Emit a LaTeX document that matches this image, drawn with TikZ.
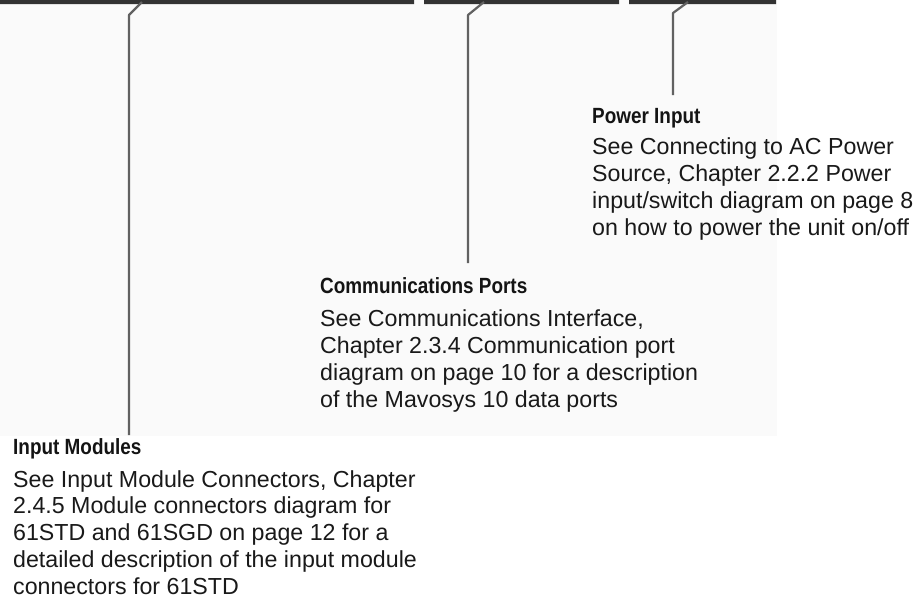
\documentclass[tikz,border=0pt]{standalone}
\usepackage{fontspec}
\setmainfont{Liberation Sans}
\newfontfamily\headfont[FakeStretch=0.86]{Liberation Sans}
\usetikzlibrary{positioning}

\begin{document}
\begin{tikzpicture}[x=1pt,y=-1pt,
	heading/.style={anchor=base west,inner sep=0pt,text=black!92,font=\headfont\fontsize{22}{25}\selectfont\bfseries},
	body/.style={anchor=base west,inner sep=0pt,align=left,text=black!90,font=\fontsize{23.2}{26.7}\selectfont},
	leader/.style={draw=black!62,line width=2.2pt,line join=round},
	bar/.style={fill=black!80,draw=none}]
	\useasboundingbox (0,0) rectangle (924,598);
	\fill[black!2] (0,0) rectangle (777,436);
	\path[bar] (0,0) rectangle (414,4) (424,0) rectangle (619,4) (629,0) rectangle (776,4);
	\coordinate (inbar) at (142,2);
	\coordinate (combar) at (484,2);
	\coordinate (pwrbar) at (688,2);
	\coordinate (inend) at (129,435);
	\coordinate (comend) at (468,263);
	\coordinate (pwrend) at (673,95);
	\node[heading] (power) at (592,123) {Power Input};
	\node[body] (powertext) at ([yshift=-112pt]power.base west) {See Connecting to AC Power\\Source, Chapter 2.2.2 Power\\input/switch diagram on page 8\\on how to power the unit on/off};
	\node[heading] (comports) at (320,293) {Communications Ports};
	\node[body] (comtext) at ([yshift=-114pt]comports.base west) {See Communications Interface,\\Chapter 2.3.4 Communication port\\diagram on page 10 for a description\\of the Mavosys 10 data ports};
	\node[heading] (inmodules) at (13,454) {Input Modules};
	\node[body] (intext) at ([yshift=-140pt]inmodules.base west) {See Input Module Connectors, Chapter\\2.4.5 Module connectors diagram for\\61STD and 61SGD on page 12 for a\\detailed description of the input module\\connectors for 61STD};
	\draw[leader] (inbar) -- ++(-13,13) -- (inend);
	\draw[leader] (combar) -- ++(-16,13) -- (comend);
	\draw[leader] (pwrbar) -- ++(-15,11) -- (pwrend);
\end{tikzpicture}
\end{document}
